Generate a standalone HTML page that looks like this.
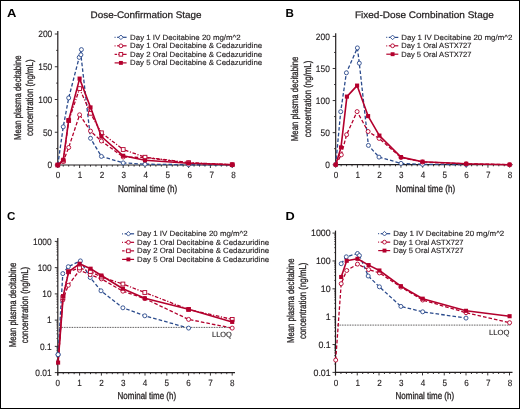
<!DOCTYPE html>
<html><head><meta charset="utf-8"><style>
html,body{margin:0;padding:0;background:#fff;}
body{width:520px;height:409px;overflow:hidden;font-family:"Liberation Sans",sans-serif;}
svg{display:block;will-change:transform;}
text{text-rendering:geometricPrecision;}
</style></head><body>
<svg width="520" height="409" viewBox="0 0 520 409" font-family="Liberation Sans, sans-serif">
<rect x="0" y="0" width="520" height="409" fill="#fff"/>
<text x="7.0" y="16.8" font-size="11.6" text-anchor="start" font-weight="bold" fill="#000" transform-origin="7 16.8" style="transform:scaleX(1.12)">A</text>
<text x="90.6" y="17.8" font-size="9.5" text-anchor="start" font-weight="normal" fill="#231f20" textLength="111" lengthAdjust="spacingAndGlyphs" stroke="#231f20" stroke-width="0.25" >Dose-Confirmation Stage</text>
<line x1="57.8" y1="31" x2="57.8" y2="165.6" stroke="#231f20" stroke-width="1.2"/>
<line x1="54.8" y1="165.00" x2="57.8" y2="165.00" stroke="#231f20" stroke-width="0.9"/>
<line x1="56.199999999999996" y1="148.62" x2="57.8" y2="148.62" stroke="#231f20" stroke-width="0.9"/>
<line x1="54.8" y1="132.25" x2="57.8" y2="132.25" stroke="#231f20" stroke-width="0.9"/>
<line x1="56.199999999999996" y1="115.88" x2="57.8" y2="115.88" stroke="#231f20" stroke-width="0.9"/>
<line x1="54.8" y1="99.50" x2="57.8" y2="99.50" stroke="#231f20" stroke-width="0.9"/>
<line x1="56.199999999999996" y1="83.12" x2="57.8" y2="83.12" stroke="#231f20" stroke-width="0.9"/>
<line x1="54.8" y1="66.75" x2="57.8" y2="66.75" stroke="#231f20" stroke-width="0.9"/>
<line x1="56.199999999999996" y1="50.38" x2="57.8" y2="50.38" stroke="#231f20" stroke-width="0.9"/>
<line x1="54.8" y1="34.00" x2="57.8" y2="34.00" stroke="#231f20" stroke-width="0.9"/>
<text x="52.2" y="168.30" font-size="9.3" text-anchor="end" font-weight="normal" fill="#231f20" stroke="#231f20" stroke-width="0.15" transform-origin="52.2 165.00" style="transform:scaleX(0.9)">0</text>
<text x="52.2" y="135.55" font-size="9.3" text-anchor="end" font-weight="normal" fill="#231f20" stroke="#231f20" stroke-width="0.15" transform-origin="52.2 132.25" style="transform:scaleX(0.9)">50</text>
<text x="52.2" y="102.80" font-size="9.3" text-anchor="end" font-weight="normal" fill="#231f20" stroke="#231f20" stroke-width="0.15" transform-origin="52.2 99.50" style="transform:scaleX(0.9)">100</text>
<text x="52.2" y="70.05" font-size="9.3" text-anchor="end" font-weight="normal" fill="#231f20" stroke="#231f20" stroke-width="0.15" transform-origin="52.2 66.75" style="transform:scaleX(0.9)">150</text>
<text x="52.2" y="37.30" font-size="9.3" text-anchor="end" font-weight="normal" fill="#231f20" stroke="#231f20" stroke-width="0.15" transform-origin="52.2 34.00" style="transform:scaleX(0.9)">200</text>
<line x1="57.199999999999996" y1="165.0" x2="235" y2="165.0" stroke="#231f20" stroke-width="1.2"/>
<line x1="57.80" y1="165.0" x2="57.80" y2="168.0" stroke="#231f20" stroke-width="0.9"/>
<line x1="63.25" y1="165.0" x2="63.25" y2="166.6" stroke="#231f20" stroke-width="0.9"/>
<line x1="68.70" y1="165.0" x2="68.70" y2="166.6" stroke="#231f20" stroke-width="0.9"/>
<line x1="74.15" y1="165.0" x2="74.15" y2="166.6" stroke="#231f20" stroke-width="0.9"/>
<line x1="79.60" y1="165.0" x2="79.60" y2="168.0" stroke="#231f20" stroke-width="0.9"/>
<line x1="85.05" y1="165.0" x2="85.05" y2="166.6" stroke="#231f20" stroke-width="0.9"/>
<line x1="90.50" y1="165.0" x2="90.50" y2="166.6" stroke="#231f20" stroke-width="0.9"/>
<line x1="95.95" y1="165.0" x2="95.95" y2="166.6" stroke="#231f20" stroke-width="0.9"/>
<line x1="101.40" y1="165.0" x2="101.40" y2="168.0" stroke="#231f20" stroke-width="0.9"/>
<line x1="106.85" y1="165.0" x2="106.85" y2="166.6" stroke="#231f20" stroke-width="0.9"/>
<line x1="112.30" y1="165.0" x2="112.30" y2="166.6" stroke="#231f20" stroke-width="0.9"/>
<line x1="117.75" y1="165.0" x2="117.75" y2="166.6" stroke="#231f20" stroke-width="0.9"/>
<line x1="123.20" y1="165.0" x2="123.20" y2="168.0" stroke="#231f20" stroke-width="0.9"/>
<line x1="128.65" y1="165.0" x2="128.65" y2="166.6" stroke="#231f20" stroke-width="0.9"/>
<line x1="134.10" y1="165.0" x2="134.10" y2="166.6" stroke="#231f20" stroke-width="0.9"/>
<line x1="139.55" y1="165.0" x2="139.55" y2="166.6" stroke="#231f20" stroke-width="0.9"/>
<line x1="145.00" y1="165.0" x2="145.00" y2="168.0" stroke="#231f20" stroke-width="0.9"/>
<line x1="150.45" y1="165.0" x2="150.45" y2="166.6" stroke="#231f20" stroke-width="0.9"/>
<line x1="155.90" y1="165.0" x2="155.90" y2="166.6" stroke="#231f20" stroke-width="0.9"/>
<line x1="161.35" y1="165.0" x2="161.35" y2="166.6" stroke="#231f20" stroke-width="0.9"/>
<line x1="166.80" y1="165.0" x2="166.80" y2="168.0" stroke="#231f20" stroke-width="0.9"/>
<line x1="172.25" y1="165.0" x2="172.25" y2="166.6" stroke="#231f20" stroke-width="0.9"/>
<line x1="177.70" y1="165.0" x2="177.70" y2="166.6" stroke="#231f20" stroke-width="0.9"/>
<line x1="183.15" y1="165.0" x2="183.15" y2="166.6" stroke="#231f20" stroke-width="0.9"/>
<line x1="188.60" y1="165.0" x2="188.60" y2="168.0" stroke="#231f20" stroke-width="0.9"/>
<line x1="194.05" y1="165.0" x2="194.05" y2="166.6" stroke="#231f20" stroke-width="0.9"/>
<line x1="199.50" y1="165.0" x2="199.50" y2="166.6" stroke="#231f20" stroke-width="0.9"/>
<line x1="204.95" y1="165.0" x2="204.95" y2="166.6" stroke="#231f20" stroke-width="0.9"/>
<line x1="210.40" y1="165.0" x2="210.40" y2="168.0" stroke="#231f20" stroke-width="0.9"/>
<line x1="215.85" y1="165.0" x2="215.85" y2="166.6" stroke="#231f20" stroke-width="0.9"/>
<line x1="221.30" y1="165.0" x2="221.30" y2="166.6" stroke="#231f20" stroke-width="0.9"/>
<line x1="226.75" y1="165.0" x2="226.75" y2="166.6" stroke="#231f20" stroke-width="0.9"/>
<line x1="232.20" y1="165.0" x2="232.20" y2="168.0" stroke="#231f20" stroke-width="0.9"/>
<text x="58.00" y="178.2" font-size="9" text-anchor="middle" font-weight="normal" fill="#231f20" stroke="#231f20" stroke-width="0.15" transform-origin="58.00 178.2" style="transform:scaleX(0.9)">0</text>
<text x="79.95" y="178.2" font-size="9" text-anchor="middle" font-weight="normal" fill="#231f20" stroke="#231f20" stroke-width="0.15" transform-origin="79.95 178.2" style="transform:scaleX(0.9)">1</text>
<text x="101.90" y="178.2" font-size="9" text-anchor="middle" font-weight="normal" fill="#231f20" stroke="#231f20" stroke-width="0.15" transform-origin="101.90 178.2" style="transform:scaleX(0.9)">2</text>
<text x="123.85" y="178.2" font-size="9" text-anchor="middle" font-weight="normal" fill="#231f20" stroke="#231f20" stroke-width="0.15" transform-origin="123.85 178.2" style="transform:scaleX(0.9)">3</text>
<text x="145.80" y="178.2" font-size="9" text-anchor="middle" font-weight="normal" fill="#231f20" stroke="#231f20" stroke-width="0.15" transform-origin="145.80 178.2" style="transform:scaleX(0.9)">4</text>
<text x="167.75" y="178.2" font-size="9" text-anchor="middle" font-weight="normal" fill="#231f20" stroke="#231f20" stroke-width="0.15" transform-origin="167.75 178.2" style="transform:scaleX(0.9)">5</text>
<text x="189.70" y="178.2" font-size="9" text-anchor="middle" font-weight="normal" fill="#231f20" stroke="#231f20" stroke-width="0.15" transform-origin="189.70 178.2" style="transform:scaleX(0.9)">6</text>
<text x="211.65" y="178.2" font-size="9" text-anchor="middle" font-weight="normal" fill="#231f20" stroke="#231f20" stroke-width="0.15" transform-origin="211.65 178.2" style="transform:scaleX(0.9)">7</text>
<text x="233.60" y="178.2" font-size="9" text-anchor="middle" font-weight="normal" fill="#231f20" stroke="#231f20" stroke-width="0.15" transform-origin="233.60 178.2" style="transform:scaleX(0.9)">8</text>
<text x="117.9" y="191.9" font-size="9.8" text-anchor="start" font-weight="normal" fill="#231f20" textLength="59.3" lengthAdjust="spacingAndGlyphs" stroke="#231f20" stroke-width="0.3" >Nominal time (h)</text>
<text transform="translate(20.6,97.7) rotate(-90)" x="0" y="0" font-size="10" text-anchor="middle" fill="#231f20" stroke="#231f20" stroke-width="0.3" textLength="84.6" lengthAdjust="spacingAndGlyphs">Mean plasma decitabine</text>
<text transform="translate(32.6,97.7) rotate(-90)" x="0" y="0" font-size="10" text-anchor="middle" fill="#231f20" stroke="#231f20" stroke-width="0.3" textLength="76.5" lengthAdjust="spacingAndGlyphs">concentration (ng/mL)</text>
<polyline points="57.80,165.00 63.25,126.80 68.70,97.90 79.20,57.40 81.40,49.60 80.90,54.80 90.50,138.30 101.40,156.40 123.20,162.90 145.00,164.20 188.60,164.70 232.20,164.90" fill="none" stroke="#2a4a8c" stroke-width="1.3" stroke-dasharray="3.6,2.1" stroke-linejoin="round"/>
<circle cx="57.80" cy="165.00" r="2.00" fill="#fff" stroke="#2a4a8c" stroke-width="0.9"/>
<circle cx="63.25" cy="126.80" r="2.00" fill="#fff" stroke="#2a4a8c" stroke-width="0.9"/>
<circle cx="68.70" cy="97.90" r="2.00" fill="#fff" stroke="#2a4a8c" stroke-width="0.9"/>
<circle cx="79.20" cy="57.40" r="2.00" fill="#fff" stroke="#2a4a8c" stroke-width="0.9"/>
<circle cx="81.40" cy="49.60" r="2.00" fill="#fff" stroke="#2a4a8c" stroke-width="0.9"/>
<circle cx="80.90" cy="54.80" r="2.00" fill="#fff" stroke="#2a4a8c" stroke-width="0.9"/>
<circle cx="90.50" cy="138.30" r="2.00" fill="#fff" stroke="#2a4a8c" stroke-width="0.9"/>
<circle cx="101.40" cy="156.40" r="2.00" fill="#fff" stroke="#2a4a8c" stroke-width="0.9"/>
<circle cx="123.20" cy="162.90" r="2.00" fill="#fff" stroke="#2a4a8c" stroke-width="0.9"/>
<circle cx="145.00" cy="164.20" r="2.00" fill="#fff" stroke="#2a4a8c" stroke-width="0.9"/>
<circle cx="188.60" cy="164.70" r="2.00" fill="#fff" stroke="#2a4a8c" stroke-width="0.9"/>
<circle cx="232.20" cy="164.90" r="2.00" fill="#fff" stroke="#2a4a8c" stroke-width="0.9"/>
<polyline points="57.80,165.00 63.25,161.50 68.70,147.50 79.60,114.80 90.50,131.10 101.40,141.00 123.20,157.00 145.00,157.50 188.60,163.00 232.20,164.70" fill="none" stroke="#b3002d" stroke-width="1.3" stroke-dasharray="3.6,2" stroke-linejoin="round"/>
<circle cx="57.80" cy="165.00" r="2.00" fill="#fff" stroke="#b3002d" stroke-width="0.9"/>
<circle cx="63.25" cy="161.50" r="2.00" fill="#fff" stroke="#b3002d" stroke-width="0.9"/>
<circle cx="68.70" cy="147.50" r="2.00" fill="#fff" stroke="#b3002d" stroke-width="0.9"/>
<circle cx="79.60" cy="114.80" r="2.00" fill="#fff" stroke="#b3002d" stroke-width="0.9"/>
<circle cx="90.50" cy="131.10" r="2.00" fill="#fff" stroke="#b3002d" stroke-width="0.9"/>
<circle cx="101.40" cy="141.00" r="2.00" fill="#fff" stroke="#b3002d" stroke-width="0.9"/>
<circle cx="123.20" cy="157.00" r="2.00" fill="#fff" stroke="#b3002d" stroke-width="0.9"/>
<circle cx="145.00" cy="157.50" r="2.00" fill="#fff" stroke="#b3002d" stroke-width="0.9"/>
<circle cx="188.60" cy="163.00" r="2.00" fill="#fff" stroke="#b3002d" stroke-width="0.9"/>
<circle cx="232.20" cy="164.70" r="2.00" fill="#fff" stroke="#b3002d" stroke-width="0.9"/>
<polyline points="57.80,165.00 63.25,161.00 68.70,120.60 79.60,88.60 90.50,113.30 101.40,132.80 123.20,149.50 145.00,157.20 188.60,162.60 232.20,164.70" fill="none" stroke="#b3002d" stroke-width="1.3" stroke-dasharray="3.6,1.6,1.2,1.6" stroke-linejoin="round"/>
<rect x="55.90" y="163.10" width="3.80" height="3.80" fill="#fff" stroke="#b3002d" stroke-width="0.9"/>
<rect x="61.35" y="159.10" width="3.80" height="3.80" fill="#fff" stroke="#b3002d" stroke-width="0.9"/>
<rect x="66.80" y="118.70" width="3.80" height="3.80" fill="#fff" stroke="#b3002d" stroke-width="0.9"/>
<rect x="77.70" y="86.70" width="3.80" height="3.80" fill="#fff" stroke="#b3002d" stroke-width="0.9"/>
<rect x="88.60" y="111.40" width="3.80" height="3.80" fill="#fff" stroke="#b3002d" stroke-width="0.9"/>
<rect x="99.50" y="130.90" width="3.80" height="3.80" fill="#fff" stroke="#b3002d" stroke-width="0.9"/>
<rect x="121.30" y="147.60" width="3.80" height="3.80" fill="#fff" stroke="#b3002d" stroke-width="0.9"/>
<rect x="143.10" y="155.30" width="3.80" height="3.80" fill="#fff" stroke="#b3002d" stroke-width="0.9"/>
<rect x="186.70" y="160.70" width="3.80" height="3.80" fill="#fff" stroke="#b3002d" stroke-width="0.9"/>
<rect x="230.30" y="162.80" width="3.80" height="3.80" fill="#fff" stroke="#b3002d" stroke-width="0.9"/>
<polyline points="57.80,165.00 63.25,159.80 68.70,120.20 79.60,78.60 90.50,107.40 101.40,136.50 123.20,155.80 145.00,160.30 188.60,163.20 232.20,164.80" fill="none" stroke="#b3002d" stroke-width="1.6"  stroke-linejoin="round"/>
<rect x="55.75" y="162.95" width="4.10" height="4.10" fill="#b3002d"/>
<rect x="61.20" y="157.75" width="4.10" height="4.10" fill="#b3002d"/>
<rect x="66.65" y="118.15" width="4.10" height="4.10" fill="#b3002d"/>
<rect x="77.55" y="76.55" width="4.10" height="4.10" fill="#b3002d"/>
<rect x="88.45" y="105.35" width="4.10" height="4.10" fill="#b3002d"/>
<rect x="99.35" y="134.45" width="4.10" height="4.10" fill="#b3002d"/>
<rect x="121.15" y="153.75" width="4.10" height="4.10" fill="#b3002d"/>
<rect x="142.95" y="158.25" width="4.10" height="4.10" fill="#b3002d"/>
<rect x="186.55" y="161.15" width="4.10" height="4.10" fill="#b3002d"/>
<rect x="230.15" y="162.75" width="4.10" height="4.10" fill="#b3002d"/>
<line x1="114.60" y1="37.300000000000004" x2="115.50" y2="37.300000000000004" stroke="#2a4a8c" stroke-width="1.2"/>
<line x1="117.10" y1="37.300000000000004" x2="126.60" y2="37.300000000000004" stroke="#2a4a8c" stroke-width="1.2"/>
<path d="M120.90 35.00L123.20 37.30L120.90 39.60L118.60 37.30Z" fill="#fff" stroke="#2a4a8c" stroke-width="0.9"/>
<text x="130.1" y="39.7" font-size="7.6" text-anchor="start" font-weight="normal" fill="#231f20" textLength="110.6" lengthAdjust="spacingAndGlyphs" stroke="#231f20" stroke-width="0.14" >Day 1 IV Decitabine 20 mg/m^2</text>
<line x1="114.60" y1="45.830000000000005" x2="115.50" y2="45.830000000000005" stroke="#b3002d" stroke-width="1.2"/>
<line x1="117.10" y1="45.830000000000005" x2="126.60" y2="45.830000000000005" stroke="#b3002d" stroke-width="1.2"/>
<circle cx="120.90" cy="45.83" r="1.90" fill="#fff" stroke="#b3002d" stroke-width="0.9"/>
<text x="130.1" y="48.230000000000004" font-size="7.6" text-anchor="start" font-weight="normal" fill="#231f20" textLength="132" lengthAdjust="spacingAndGlyphs" stroke="#231f20" stroke-width="0.14" >Day 1 Oral Decitabine &amp; Cedazuridine</text>
<line x1="114.60" y1="54.36000000000001" x2="117.10" y2="54.36000000000001" stroke="#b3002d" stroke-width="1.2"/>
<line x1="118.20" y1="54.36000000000001" x2="126.60" y2="54.36000000000001" stroke="#b3002d" stroke-width="1.2"/>
<rect x="119.10" y="52.56" width="3.60" height="3.60" fill="#fff" stroke="#b3002d" stroke-width="0.9"/>
<text x="130.1" y="56.760000000000005" font-size="7.6" text-anchor="start" font-weight="normal" fill="#231f20" textLength="132" lengthAdjust="spacingAndGlyphs" stroke="#231f20" stroke-width="0.14" >Day 2 Oral Decitabine &amp; Cedazuridine</text>
<line x1="114.60" y1="62.88999999999999" x2="126.60" y2="62.88999999999999" stroke="#b3002d" stroke-width="1.2"/>
<rect x="118.95" y="60.94" width="3.90" height="3.90" fill="#b3002d"/>
<text x="130.1" y="65.28999999999999" font-size="7.6" text-anchor="start" font-weight="normal" fill="#231f20" textLength="132" lengthAdjust="spacingAndGlyphs" stroke="#231f20" stroke-width="0.14" >Day 5 Oral Decitabine &amp; Cedazuridine</text>
<text x="285.6" y="16.9" font-size="11.6" text-anchor="start" font-weight="bold" fill="#000" >B</text>
<text x="355" y="17.7" font-size="9.5" text-anchor="start" font-weight="normal" fill="#231f20" textLength="138.8" lengthAdjust="spacingAndGlyphs" stroke="#231f20" stroke-width="0.25" >Fixed-Dose Combination Stage</text>
<line x1="335.7" y1="33.2" x2="335.7" y2="165.29999999999998" stroke="#231f20" stroke-width="1.2"/>
<line x1="332.7" y1="164.70" x2="335.7" y2="164.70" stroke="#231f20" stroke-width="0.9"/>
<line x1="334.09999999999997" y1="148.66" x2="335.7" y2="148.66" stroke="#231f20" stroke-width="0.9"/>
<line x1="332.7" y1="132.63" x2="335.7" y2="132.63" stroke="#231f20" stroke-width="0.9"/>
<line x1="334.09999999999997" y1="116.59" x2="335.7" y2="116.59" stroke="#231f20" stroke-width="0.9"/>
<line x1="332.7" y1="100.56" x2="335.7" y2="100.56" stroke="#231f20" stroke-width="0.9"/>
<line x1="334.09999999999997" y1="84.52" x2="335.7" y2="84.52" stroke="#231f20" stroke-width="0.9"/>
<line x1="332.7" y1="68.49" x2="335.7" y2="68.49" stroke="#231f20" stroke-width="0.9"/>
<line x1="334.09999999999997" y1="52.45" x2="335.7" y2="52.45" stroke="#231f20" stroke-width="0.9"/>
<line x1="332.7" y1="36.42" x2="335.7" y2="36.42" stroke="#231f20" stroke-width="0.9"/>
<text x="329.8" y="168.00" font-size="9.3" text-anchor="end" font-weight="normal" fill="#231f20" stroke="#231f20" stroke-width="0.15" transform-origin="329.8 164.70" style="transform:scaleX(0.9)">0</text>
<text x="329.8" y="135.93" font-size="9.3" text-anchor="end" font-weight="normal" fill="#231f20" stroke="#231f20" stroke-width="0.15" transform-origin="329.8 132.63" style="transform:scaleX(0.9)">50</text>
<text x="329.8" y="103.86" font-size="9.3" text-anchor="end" font-weight="normal" fill="#231f20" stroke="#231f20" stroke-width="0.15" transform-origin="329.8 100.56" style="transform:scaleX(0.9)">100</text>
<text x="329.8" y="71.79" font-size="9.3" text-anchor="end" font-weight="normal" fill="#231f20" stroke="#231f20" stroke-width="0.15" transform-origin="329.8 68.49" style="transform:scaleX(0.9)">150</text>
<text x="329.8" y="39.72" font-size="9.3" text-anchor="end" font-weight="normal" fill="#231f20" stroke="#231f20" stroke-width="0.15" transform-origin="329.8 36.42" style="transform:scaleX(0.9)">200</text>
<line x1="335.09999999999997" y1="164.7" x2="512.5" y2="164.7" stroke="#231f20" stroke-width="1.2"/>
<line x1="335.70" y1="164.7" x2="335.70" y2="167.7" stroke="#231f20" stroke-width="0.9"/>
<line x1="341.14" y1="164.7" x2="341.14" y2="166.29999999999998" stroke="#231f20" stroke-width="0.9"/>
<line x1="346.57" y1="164.7" x2="346.57" y2="166.29999999999998" stroke="#231f20" stroke-width="0.9"/>
<line x1="352.01" y1="164.7" x2="352.01" y2="166.29999999999998" stroke="#231f20" stroke-width="0.9"/>
<line x1="357.45" y1="164.7" x2="357.45" y2="167.7" stroke="#231f20" stroke-width="0.9"/>
<line x1="362.89" y1="164.7" x2="362.89" y2="166.29999999999998" stroke="#231f20" stroke-width="0.9"/>
<line x1="368.32" y1="164.7" x2="368.32" y2="166.29999999999998" stroke="#231f20" stroke-width="0.9"/>
<line x1="373.76" y1="164.7" x2="373.76" y2="166.29999999999998" stroke="#231f20" stroke-width="0.9"/>
<line x1="379.20" y1="164.7" x2="379.20" y2="167.7" stroke="#231f20" stroke-width="0.9"/>
<line x1="384.64" y1="164.7" x2="384.64" y2="166.29999999999998" stroke="#231f20" stroke-width="0.9"/>
<line x1="390.07" y1="164.7" x2="390.07" y2="166.29999999999998" stroke="#231f20" stroke-width="0.9"/>
<line x1="395.51" y1="164.7" x2="395.51" y2="166.29999999999998" stroke="#231f20" stroke-width="0.9"/>
<line x1="400.95" y1="164.7" x2="400.95" y2="167.7" stroke="#231f20" stroke-width="0.9"/>
<line x1="406.39" y1="164.7" x2="406.39" y2="166.29999999999998" stroke="#231f20" stroke-width="0.9"/>
<line x1="411.82" y1="164.7" x2="411.82" y2="166.29999999999998" stroke="#231f20" stroke-width="0.9"/>
<line x1="417.26" y1="164.7" x2="417.26" y2="166.29999999999998" stroke="#231f20" stroke-width="0.9"/>
<line x1="422.70" y1="164.7" x2="422.70" y2="167.7" stroke="#231f20" stroke-width="0.9"/>
<line x1="428.14" y1="164.7" x2="428.14" y2="166.29999999999998" stroke="#231f20" stroke-width="0.9"/>
<line x1="433.57" y1="164.7" x2="433.57" y2="166.29999999999998" stroke="#231f20" stroke-width="0.9"/>
<line x1="439.01" y1="164.7" x2="439.01" y2="166.29999999999998" stroke="#231f20" stroke-width="0.9"/>
<line x1="444.45" y1="164.7" x2="444.45" y2="167.7" stroke="#231f20" stroke-width="0.9"/>
<line x1="449.89" y1="164.7" x2="449.89" y2="166.29999999999998" stroke="#231f20" stroke-width="0.9"/>
<line x1="455.32" y1="164.7" x2="455.32" y2="166.29999999999998" stroke="#231f20" stroke-width="0.9"/>
<line x1="460.76" y1="164.7" x2="460.76" y2="166.29999999999998" stroke="#231f20" stroke-width="0.9"/>
<line x1="466.20" y1="164.7" x2="466.20" y2="167.7" stroke="#231f20" stroke-width="0.9"/>
<line x1="471.64" y1="164.7" x2="471.64" y2="166.29999999999998" stroke="#231f20" stroke-width="0.9"/>
<line x1="477.07" y1="164.7" x2="477.07" y2="166.29999999999998" stroke="#231f20" stroke-width="0.9"/>
<line x1="482.51" y1="164.7" x2="482.51" y2="166.29999999999998" stroke="#231f20" stroke-width="0.9"/>
<line x1="487.95" y1="164.7" x2="487.95" y2="167.7" stroke="#231f20" stroke-width="0.9"/>
<line x1="493.39" y1="164.7" x2="493.39" y2="166.29999999999998" stroke="#231f20" stroke-width="0.9"/>
<line x1="498.82" y1="164.7" x2="498.82" y2="166.29999999999998" stroke="#231f20" stroke-width="0.9"/>
<line x1="504.26" y1="164.7" x2="504.26" y2="166.29999999999998" stroke="#231f20" stroke-width="0.9"/>
<line x1="509.70" y1="164.7" x2="509.70" y2="167.7" stroke="#231f20" stroke-width="0.9"/>
<text x="336.00" y="178.0" font-size="9" text-anchor="middle" font-weight="normal" fill="#231f20" stroke="#231f20" stroke-width="0.15" transform-origin="336.00 178.0" style="transform:scaleX(0.9)">0</text>
<text x="357.75" y="178.0" font-size="9" text-anchor="middle" font-weight="normal" fill="#231f20" stroke="#231f20" stroke-width="0.15" transform-origin="357.75 178.0" style="transform:scaleX(0.9)">1</text>
<text x="379.50" y="178.0" font-size="9" text-anchor="middle" font-weight="normal" fill="#231f20" stroke="#231f20" stroke-width="0.15" transform-origin="379.50 178.0" style="transform:scaleX(0.9)">2</text>
<text x="401.25" y="178.0" font-size="9" text-anchor="middle" font-weight="normal" fill="#231f20" stroke="#231f20" stroke-width="0.15" transform-origin="401.25 178.0" style="transform:scaleX(0.9)">3</text>
<text x="423.00" y="178.0" font-size="9" text-anchor="middle" font-weight="normal" fill="#231f20" stroke="#231f20" stroke-width="0.15" transform-origin="423.00 178.0" style="transform:scaleX(0.9)">4</text>
<text x="444.75" y="178.0" font-size="9" text-anchor="middle" font-weight="normal" fill="#231f20" stroke="#231f20" stroke-width="0.15" transform-origin="444.75 178.0" style="transform:scaleX(0.9)">5</text>
<text x="466.50" y="178.0" font-size="9" text-anchor="middle" font-weight="normal" fill="#231f20" stroke="#231f20" stroke-width="0.15" transform-origin="466.50 178.0" style="transform:scaleX(0.9)">6</text>
<text x="488.25" y="178.0" font-size="9" text-anchor="middle" font-weight="normal" fill="#231f20" stroke="#231f20" stroke-width="0.15" transform-origin="488.25 178.0" style="transform:scaleX(0.9)">7</text>
<text x="510.00" y="178.0" font-size="9" text-anchor="middle" font-weight="normal" fill="#231f20" stroke="#231f20" stroke-width="0.15" transform-origin="510.00 178.0" style="transform:scaleX(0.9)">8</text>
<text x="395.8" y="191.9" font-size="9.8" text-anchor="start" font-weight="normal" fill="#231f20" textLength="59.3" lengthAdjust="spacingAndGlyphs" stroke="#231f20" stroke-width="0.3" >Nominal time (h)</text>
<text transform="translate(298.2,98.9) rotate(-90)" x="0" y="0" font-size="10" text-anchor="middle" fill="#231f20" stroke="#231f20" stroke-width="0.3" textLength="84.6" lengthAdjust="spacingAndGlyphs">Mean plasma decitabine</text>
<text transform="translate(310.5,98.9) rotate(-90)" x="0" y="0" font-size="10" text-anchor="middle" fill="#231f20" stroke="#231f20" stroke-width="0.3" textLength="76.5" lengthAdjust="spacingAndGlyphs">concentration (ng/mL)</text>
<polyline points="335.70,164.70 340.70,111.70 346.40,72.80 357.40,47.90 359.30,63.20 368.40,145.40 379.00,157.10 401.00,163.40 422.50,164.30 466.20,164.60" fill="none" stroke="#2a4a8c" stroke-width="1.3" stroke-dasharray="3.6,2.1" stroke-linejoin="round"/>
<circle cx="335.70" cy="164.70" r="2.00" fill="#fff" stroke="#2a4a8c" stroke-width="0.9"/>
<circle cx="340.70" cy="111.70" r="2.00" fill="#fff" stroke="#2a4a8c" stroke-width="0.9"/>
<circle cx="346.40" cy="72.80" r="2.00" fill="#fff" stroke="#2a4a8c" stroke-width="0.9"/>
<circle cx="357.40" cy="47.90" r="2.00" fill="#fff" stroke="#2a4a8c" stroke-width="0.9"/>
<circle cx="359.30" cy="63.20" r="2.00" fill="#fff" stroke="#2a4a8c" stroke-width="0.9"/>
<circle cx="368.40" cy="145.40" r="2.00" fill="#fff" stroke="#2a4a8c" stroke-width="0.9"/>
<circle cx="379.00" cy="157.10" r="2.00" fill="#fff" stroke="#2a4a8c" stroke-width="0.9"/>
<circle cx="401.00" cy="163.40" r="2.00" fill="#fff" stroke="#2a4a8c" stroke-width="0.9"/>
<circle cx="422.50" cy="164.30" r="2.00" fill="#fff" stroke="#2a4a8c" stroke-width="0.9"/>
<circle cx="466.20" cy="164.60" r="2.00" fill="#fff" stroke="#2a4a8c" stroke-width="0.9"/>
<polyline points="335.70,164.70 341.30,154.80 346.60,134.70 357.10,111.60 368.10,131.50 379.10,138.40 401.00,157.50 422.50,162.00 466.20,163.80 509.60,164.60" fill="none" stroke="#b3002d" stroke-width="1.3" stroke-dasharray="3.6,2" stroke-linejoin="round"/>
<circle cx="335.70" cy="164.70" r="2.00" fill="#fff" stroke="#b3002d" stroke-width="0.9"/>
<circle cx="341.30" cy="154.80" r="2.00" fill="#fff" stroke="#b3002d" stroke-width="0.9"/>
<circle cx="346.60" cy="134.70" r="2.00" fill="#fff" stroke="#b3002d" stroke-width="0.9"/>
<circle cx="357.10" cy="111.60" r="2.00" fill="#fff" stroke="#b3002d" stroke-width="0.9"/>
<circle cx="368.10" cy="131.50" r="2.00" fill="#fff" stroke="#b3002d" stroke-width="0.9"/>
<circle cx="379.10" cy="138.40" r="2.00" fill="#fff" stroke="#b3002d" stroke-width="0.9"/>
<circle cx="401.00" cy="157.50" r="2.00" fill="#fff" stroke="#b3002d" stroke-width="0.9"/>
<circle cx="422.50" cy="162.00" r="2.00" fill="#fff" stroke="#b3002d" stroke-width="0.9"/>
<circle cx="466.20" cy="163.80" r="2.00" fill="#fff" stroke="#b3002d" stroke-width="0.9"/>
<circle cx="509.60" cy="164.60" r="2.00" fill="#fff" stroke="#b3002d" stroke-width="0.9"/>
<polyline points="335.70,164.70 341.00,147.40 346.90,96.60 357.10,85.60 368.10,116.10 379.40,135.60 401.00,157.10 422.50,161.70 466.20,163.80 509.60,164.70" fill="none" stroke="#b3002d" stroke-width="1.6"  stroke-linejoin="round"/>
<rect x="333.65" y="162.65" width="4.10" height="4.10" fill="#b3002d"/>
<rect x="338.95" y="145.35" width="4.10" height="4.10" fill="#b3002d"/>
<rect x="344.85" y="94.55" width="4.10" height="4.10" fill="#b3002d"/>
<rect x="355.05" y="83.55" width="4.10" height="4.10" fill="#b3002d"/>
<rect x="366.05" y="114.05" width="4.10" height="4.10" fill="#b3002d"/>
<rect x="377.35" y="133.55" width="4.10" height="4.10" fill="#b3002d"/>
<rect x="398.95" y="155.05" width="4.10" height="4.10" fill="#b3002d"/>
<rect x="420.45" y="159.65" width="4.10" height="4.10" fill="#b3002d"/>
<rect x="464.15" y="161.75" width="4.10" height="4.10" fill="#b3002d"/>
<rect x="507.55" y="162.65" width="4.10" height="4.10" fill="#b3002d"/>
<line x1="386.30" y1="37.4" x2="387.20" y2="37.4" stroke="#2a4a8c" stroke-width="1.2"/>
<line x1="388.80" y1="37.4" x2="398.30" y2="37.4" stroke="#2a4a8c" stroke-width="1.2"/>
<path d="M392.60 35.10L394.90 37.40L392.60 39.70L390.30 37.40Z" fill="#fff" stroke="#2a4a8c" stroke-width="0.9"/>
<text x="401.3" y="39.8" font-size="7.6" text-anchor="start" font-weight="normal" fill="#231f20" textLength="111.1" lengthAdjust="spacingAndGlyphs" stroke="#231f20" stroke-width="0.14" >Day 1 IV Decitabine 20 mg/m^2</text>
<line x1="386.30" y1="45.8" x2="387.20" y2="45.8" stroke="#b3002d" stroke-width="1.2"/>
<line x1="388.80" y1="45.8" x2="398.30" y2="45.8" stroke="#b3002d" stroke-width="1.2"/>
<circle cx="392.60" cy="45.80" r="1.90" fill="#fff" stroke="#b3002d" stroke-width="0.9"/>
<text x="401.3" y="48.199999999999996" font-size="7.6" text-anchor="start" font-weight="normal" fill="#231f20" textLength="70.2" lengthAdjust="spacingAndGlyphs" stroke="#231f20" stroke-width="0.14" >Day 1 Oral ASTX727</text>
<line x1="386.30" y1="54.199999999999996" x2="398.30" y2="54.199999999999996" stroke="#b3002d" stroke-width="1.2"/>
<rect x="390.65" y="52.25" width="3.90" height="3.90" fill="#b3002d"/>
<text x="401.3" y="56.599999999999994" font-size="7.6" text-anchor="start" font-weight="normal" fill="#231f20" textLength="70.2" lengthAdjust="spacingAndGlyphs" stroke="#231f20" stroke-width="0.14" >Day 5 Oral ASTX727</text>
<text x="7.0" y="219.8" font-size="11.6" text-anchor="start" font-weight="bold" fill="#000" >C</text>
<line x1="57.8" y1="238" x2="57.8" y2="375.6" stroke="#231f20" stroke-width="1.2"/>
<line x1="54.8" y1="372.60" x2="57.8" y2="372.60" stroke="#231f20" stroke-width="0.9"/>
<line x1="56.3" y1="364.70" x2="57.8" y2="364.70" stroke="#231f20" stroke-width="0.6"/>
<line x1="56.3" y1="360.08" x2="57.8" y2="360.08" stroke="#231f20" stroke-width="0.6"/>
<line x1="56.3" y1="356.80" x2="57.8" y2="356.80" stroke="#231f20" stroke-width="0.6"/>
<line x1="56.3" y1="354.26" x2="57.8" y2="354.26" stroke="#231f20" stroke-width="0.6"/>
<line x1="56.3" y1="352.18" x2="57.8" y2="352.18" stroke="#231f20" stroke-width="0.6"/>
<line x1="56.3" y1="350.42" x2="57.8" y2="350.42" stroke="#231f20" stroke-width="0.6"/>
<line x1="56.3" y1="348.90" x2="57.8" y2="348.90" stroke="#231f20" stroke-width="0.6"/>
<line x1="56.3" y1="347.56" x2="57.8" y2="347.56" stroke="#231f20" stroke-width="0.6"/>
<line x1="54.8" y1="346.36" x2="57.8" y2="346.36" stroke="#231f20" stroke-width="0.9"/>
<line x1="56.3" y1="338.46" x2="57.8" y2="338.46" stroke="#231f20" stroke-width="0.6"/>
<line x1="56.3" y1="333.84" x2="57.8" y2="333.84" stroke="#231f20" stroke-width="0.6"/>
<line x1="56.3" y1="330.56" x2="57.8" y2="330.56" stroke="#231f20" stroke-width="0.6"/>
<line x1="56.3" y1="328.02" x2="57.8" y2="328.02" stroke="#231f20" stroke-width="0.6"/>
<line x1="56.3" y1="325.94" x2="57.8" y2="325.94" stroke="#231f20" stroke-width="0.6"/>
<line x1="56.3" y1="324.18" x2="57.8" y2="324.18" stroke="#231f20" stroke-width="0.6"/>
<line x1="56.3" y1="322.66" x2="57.8" y2="322.66" stroke="#231f20" stroke-width="0.6"/>
<line x1="56.3" y1="321.32" x2="57.8" y2="321.32" stroke="#231f20" stroke-width="0.6"/>
<line x1="54.8" y1="320.12" x2="57.8" y2="320.12" stroke="#231f20" stroke-width="0.9"/>
<line x1="56.3" y1="312.22" x2="57.8" y2="312.22" stroke="#231f20" stroke-width="0.6"/>
<line x1="56.3" y1="307.60" x2="57.8" y2="307.60" stroke="#231f20" stroke-width="0.6"/>
<line x1="56.3" y1="304.32" x2="57.8" y2="304.32" stroke="#231f20" stroke-width="0.6"/>
<line x1="56.3" y1="301.78" x2="57.8" y2="301.78" stroke="#231f20" stroke-width="0.6"/>
<line x1="56.3" y1="299.70" x2="57.8" y2="299.70" stroke="#231f20" stroke-width="0.6"/>
<line x1="56.3" y1="297.94" x2="57.8" y2="297.94" stroke="#231f20" stroke-width="0.6"/>
<line x1="56.3" y1="296.42" x2="57.8" y2="296.42" stroke="#231f20" stroke-width="0.6"/>
<line x1="56.3" y1="295.08" x2="57.8" y2="295.08" stroke="#231f20" stroke-width="0.6"/>
<line x1="54.8" y1="293.88" x2="57.8" y2="293.88" stroke="#231f20" stroke-width="0.9"/>
<line x1="56.3" y1="285.98" x2="57.8" y2="285.98" stroke="#231f20" stroke-width="0.6"/>
<line x1="56.3" y1="281.36" x2="57.8" y2="281.36" stroke="#231f20" stroke-width="0.6"/>
<line x1="56.3" y1="278.08" x2="57.8" y2="278.08" stroke="#231f20" stroke-width="0.6"/>
<line x1="56.3" y1="275.54" x2="57.8" y2="275.54" stroke="#231f20" stroke-width="0.6"/>
<line x1="56.3" y1="273.46" x2="57.8" y2="273.46" stroke="#231f20" stroke-width="0.6"/>
<line x1="56.3" y1="271.70" x2="57.8" y2="271.70" stroke="#231f20" stroke-width="0.6"/>
<line x1="56.3" y1="270.18" x2="57.8" y2="270.18" stroke="#231f20" stroke-width="0.6"/>
<line x1="56.3" y1="268.84" x2="57.8" y2="268.84" stroke="#231f20" stroke-width="0.6"/>
<line x1="54.8" y1="267.64" x2="57.8" y2="267.64" stroke="#231f20" stroke-width="0.9"/>
<line x1="56.3" y1="259.74" x2="57.8" y2="259.74" stroke="#231f20" stroke-width="0.6"/>
<line x1="56.3" y1="255.12" x2="57.8" y2="255.12" stroke="#231f20" stroke-width="0.6"/>
<line x1="56.3" y1="251.84" x2="57.8" y2="251.84" stroke="#231f20" stroke-width="0.6"/>
<line x1="56.3" y1="249.30" x2="57.8" y2="249.30" stroke="#231f20" stroke-width="0.6"/>
<line x1="56.3" y1="247.22" x2="57.8" y2="247.22" stroke="#231f20" stroke-width="0.6"/>
<line x1="56.3" y1="245.46" x2="57.8" y2="245.46" stroke="#231f20" stroke-width="0.6"/>
<line x1="56.3" y1="243.94" x2="57.8" y2="243.94" stroke="#231f20" stroke-width="0.6"/>
<line x1="56.3" y1="242.60" x2="57.8" y2="242.60" stroke="#231f20" stroke-width="0.6"/>
<line x1="54.8" y1="241.40" x2="57.8" y2="241.40" stroke="#231f20" stroke-width="0.9"/>
<text x="51.6" y="375.90" font-size="9.3" text-anchor="end" font-weight="normal" fill="#231f20" stroke="#231f20" stroke-width="0.15" transform-origin="51.6 372.60" style="transform:scaleX(0.9)">0.01</text>
<text x="51.6" y="349.66" font-size="9.3" text-anchor="end" font-weight="normal" fill="#231f20" stroke="#231f20" stroke-width="0.15" transform-origin="51.6 346.36" style="transform:scaleX(0.9)">0.1</text>
<text x="51.6" y="323.42" font-size="9.3" text-anchor="end" font-weight="normal" fill="#231f20" stroke="#231f20" stroke-width="0.15" transform-origin="51.6 320.12" style="transform:scaleX(0.9)">1</text>
<text x="51.6" y="297.18" font-size="9.3" text-anchor="end" font-weight="normal" fill="#231f20" stroke="#231f20" stroke-width="0.15" transform-origin="51.6 293.88" style="transform:scaleX(0.9)">10</text>
<text x="51.6" y="270.94" font-size="9.3" text-anchor="end" font-weight="normal" fill="#231f20" stroke="#231f20" stroke-width="0.15" transform-origin="51.6 267.64" style="transform:scaleX(0.9)">100</text>
<text x="51.6" y="244.70" font-size="9.3" text-anchor="end" font-weight="normal" fill="#231f20" stroke="#231f20" stroke-width="0.15" transform-origin="51.6 241.40" style="transform:scaleX(0.9)">1000</text>
<line x1="57.199999999999996" y1="372.6" x2="235" y2="372.6" stroke="#231f20" stroke-width="1.2"/>
<line x1="57.80" y1="372.6" x2="57.80" y2="375.6" stroke="#231f20" stroke-width="0.9"/>
<line x1="63.25" y1="372.6" x2="63.25" y2="374.20000000000005" stroke="#231f20" stroke-width="0.9"/>
<line x1="68.70" y1="372.6" x2="68.70" y2="374.20000000000005" stroke="#231f20" stroke-width="0.9"/>
<line x1="74.15" y1="372.6" x2="74.15" y2="374.20000000000005" stroke="#231f20" stroke-width="0.9"/>
<line x1="79.60" y1="372.6" x2="79.60" y2="375.6" stroke="#231f20" stroke-width="0.9"/>
<line x1="85.05" y1="372.6" x2="85.05" y2="374.20000000000005" stroke="#231f20" stroke-width="0.9"/>
<line x1="90.50" y1="372.6" x2="90.50" y2="374.20000000000005" stroke="#231f20" stroke-width="0.9"/>
<line x1="95.95" y1="372.6" x2="95.95" y2="374.20000000000005" stroke="#231f20" stroke-width="0.9"/>
<line x1="101.40" y1="372.6" x2="101.40" y2="375.6" stroke="#231f20" stroke-width="0.9"/>
<line x1="106.85" y1="372.6" x2="106.85" y2="374.20000000000005" stroke="#231f20" stroke-width="0.9"/>
<line x1="112.30" y1="372.6" x2="112.30" y2="374.20000000000005" stroke="#231f20" stroke-width="0.9"/>
<line x1="117.75" y1="372.6" x2="117.75" y2="374.20000000000005" stroke="#231f20" stroke-width="0.9"/>
<line x1="123.20" y1="372.6" x2="123.20" y2="375.6" stroke="#231f20" stroke-width="0.9"/>
<line x1="128.65" y1="372.6" x2="128.65" y2="374.20000000000005" stroke="#231f20" stroke-width="0.9"/>
<line x1="134.10" y1="372.6" x2="134.10" y2="374.20000000000005" stroke="#231f20" stroke-width="0.9"/>
<line x1="139.55" y1="372.6" x2="139.55" y2="374.20000000000005" stroke="#231f20" stroke-width="0.9"/>
<line x1="145.00" y1="372.6" x2="145.00" y2="375.6" stroke="#231f20" stroke-width="0.9"/>
<line x1="150.45" y1="372.6" x2="150.45" y2="374.20000000000005" stroke="#231f20" stroke-width="0.9"/>
<line x1="155.90" y1="372.6" x2="155.90" y2="374.20000000000005" stroke="#231f20" stroke-width="0.9"/>
<line x1="161.35" y1="372.6" x2="161.35" y2="374.20000000000005" stroke="#231f20" stroke-width="0.9"/>
<line x1="166.80" y1="372.6" x2="166.80" y2="375.6" stroke="#231f20" stroke-width="0.9"/>
<line x1="172.25" y1="372.6" x2="172.25" y2="374.20000000000005" stroke="#231f20" stroke-width="0.9"/>
<line x1="177.70" y1="372.6" x2="177.70" y2="374.20000000000005" stroke="#231f20" stroke-width="0.9"/>
<line x1="183.15" y1="372.6" x2="183.15" y2="374.20000000000005" stroke="#231f20" stroke-width="0.9"/>
<line x1="188.60" y1="372.6" x2="188.60" y2="375.6" stroke="#231f20" stroke-width="0.9"/>
<line x1="194.05" y1="372.6" x2="194.05" y2="374.20000000000005" stroke="#231f20" stroke-width="0.9"/>
<line x1="199.50" y1="372.6" x2="199.50" y2="374.20000000000005" stroke="#231f20" stroke-width="0.9"/>
<line x1="204.95" y1="372.6" x2="204.95" y2="374.20000000000005" stroke="#231f20" stroke-width="0.9"/>
<line x1="210.40" y1="372.6" x2="210.40" y2="375.6" stroke="#231f20" stroke-width="0.9"/>
<line x1="215.85" y1="372.6" x2="215.85" y2="374.20000000000005" stroke="#231f20" stroke-width="0.9"/>
<line x1="221.30" y1="372.6" x2="221.30" y2="374.20000000000005" stroke="#231f20" stroke-width="0.9"/>
<line x1="226.75" y1="372.6" x2="226.75" y2="374.20000000000005" stroke="#231f20" stroke-width="0.9"/>
<line x1="232.20" y1="372.6" x2="232.20" y2="375.6" stroke="#231f20" stroke-width="0.9"/>
<text x="57.80" y="385.8" font-size="9" text-anchor="middle" font-weight="normal" fill="#231f20" stroke="#231f20" stroke-width="0.15" transform-origin="57.80 385.8" style="transform:scaleX(0.9)">0</text>
<text x="79.60" y="385.8" font-size="9" text-anchor="middle" font-weight="normal" fill="#231f20" stroke="#231f20" stroke-width="0.15" transform-origin="79.60 385.8" style="transform:scaleX(0.9)">1</text>
<text x="101.40" y="385.8" font-size="9" text-anchor="middle" font-weight="normal" fill="#231f20" stroke="#231f20" stroke-width="0.15" transform-origin="101.40 385.8" style="transform:scaleX(0.9)">2</text>
<text x="123.20" y="385.8" font-size="9" text-anchor="middle" font-weight="normal" fill="#231f20" stroke="#231f20" stroke-width="0.15" transform-origin="123.20 385.8" style="transform:scaleX(0.9)">3</text>
<text x="145.00" y="385.8" font-size="9" text-anchor="middle" font-weight="normal" fill="#231f20" stroke="#231f20" stroke-width="0.15" transform-origin="145.00 385.8" style="transform:scaleX(0.9)">4</text>
<text x="166.80" y="385.8" font-size="9" text-anchor="middle" font-weight="normal" fill="#231f20" stroke="#231f20" stroke-width="0.15" transform-origin="166.80 385.8" style="transform:scaleX(0.9)">5</text>
<text x="188.60" y="385.8" font-size="9" text-anchor="middle" font-weight="normal" fill="#231f20" stroke="#231f20" stroke-width="0.15" transform-origin="188.60 385.8" style="transform:scaleX(0.9)">6</text>
<text x="210.40" y="385.8" font-size="9" text-anchor="middle" font-weight="normal" fill="#231f20" stroke="#231f20" stroke-width="0.15" transform-origin="210.40 385.8" style="transform:scaleX(0.9)">7</text>
<text x="232.20" y="385.8" font-size="9" text-anchor="middle" font-weight="normal" fill="#231f20" stroke="#231f20" stroke-width="0.15" transform-origin="232.20 385.8" style="transform:scaleX(0.9)">8</text>
<text x="117.6" y="399.4" font-size="9.8" text-anchor="start" font-weight="normal" fill="#231f20" textLength="58.5" lengthAdjust="spacingAndGlyphs" stroke="#231f20" stroke-width="0.3" >Nominal time (h)</text>
<text transform="translate(16.0,305) rotate(-90)" x="0" y="0" font-size="10" text-anchor="middle" fill="#231f20" stroke="#231f20" stroke-width="0.3" textLength="84.6" lengthAdjust="spacingAndGlyphs">Mean plasma decitabine</text>
<text transform="translate(28.1,305) rotate(-90)" x="0" y="0" font-size="10" text-anchor="middle" fill="#231f20" stroke="#231f20" stroke-width="0.3" textLength="76.5" lengthAdjust="spacingAndGlyphs">concentration (ng/mL)</text>
<line x1="59" y1="327.4" x2="232.5" y2="327.4" stroke="#231f20" stroke-width="0.9" stroke-dasharray="0.8,0.85"/>
<text x="212.1" y="337.3" font-size="7.6" text-anchor="start" font-weight="normal" fill="#231f20" textLength="19.8" lengthAdjust="spacingAndGlyphs" stroke="#231f20" stroke-width="0.14" >LLOQ</text>
<polyline points="58.10,354.60 62.80,273.60 68.30,266.70 80.40,260.90 90.20,277.50 101.00,290.80 122.90,307.80 144.80,315.80 188.60,328.10" fill="none" stroke="#2a4a8c" stroke-width="1.3" stroke-dasharray="3.6,2.1" stroke-linejoin="round"/>
<circle cx="58.10" cy="354.60" r="2.00" fill="#fff" stroke="#2a4a8c" stroke-width="0.9"/>
<circle cx="62.80" cy="273.60" r="2.00" fill="#fff" stroke="#2a4a8c" stroke-width="0.9"/>
<circle cx="68.30" cy="266.70" r="2.00" fill="#fff" stroke="#2a4a8c" stroke-width="0.9"/>
<circle cx="80.40" cy="260.90" r="2.00" fill="#fff" stroke="#2a4a8c" stroke-width="0.9"/>
<circle cx="90.20" cy="277.50" r="2.00" fill="#fff" stroke="#2a4a8c" stroke-width="0.9"/>
<circle cx="101.00" cy="290.80" r="2.00" fill="#fff" stroke="#2a4a8c" stroke-width="0.9"/>
<circle cx="122.90" cy="307.80" r="2.00" fill="#fff" stroke="#2a4a8c" stroke-width="0.9"/>
<circle cx="144.80" cy="315.80" r="2.00" fill="#fff" stroke="#2a4a8c" stroke-width="0.9"/>
<circle cx="188.60" cy="328.10" r="2.00" fill="#fff" stroke="#2a4a8c" stroke-width="0.9"/>
<polyline points="58.10,362.60 62.80,300.00 68.30,285.30 79.50,270.30 90.20,274.60 101.40,278.90 122.90,291.20 144.80,298.60 188.60,319.40 232.20,328.10" fill="none" stroke="#b3002d" stroke-width="1.3" stroke-dasharray="3.6,2" stroke-linejoin="round"/>
<circle cx="62.80" cy="300.00" r="2.00" fill="#fff" stroke="#b3002d" stroke-width="0.9"/>
<circle cx="68.30" cy="285.30" r="2.00" fill="#fff" stroke="#b3002d" stroke-width="0.9"/>
<circle cx="79.50" cy="270.30" r="2.00" fill="#fff" stroke="#b3002d" stroke-width="0.9"/>
<circle cx="90.20" cy="274.60" r="2.00" fill="#fff" stroke="#b3002d" stroke-width="0.9"/>
<circle cx="101.40" cy="278.90" r="2.00" fill="#fff" stroke="#b3002d" stroke-width="0.9"/>
<circle cx="122.90" cy="291.20" r="2.00" fill="#fff" stroke="#b3002d" stroke-width="0.9"/>
<circle cx="144.80" cy="298.60" r="2.00" fill="#fff" stroke="#b3002d" stroke-width="0.9"/>
<circle cx="188.60" cy="319.40" r="2.00" fill="#fff" stroke="#b3002d" stroke-width="0.9"/>
<circle cx="232.20" cy="328.10" r="2.00" fill="#fff" stroke="#b3002d" stroke-width="0.9"/>
<polyline points="58.10,362.60 62.90,297.50 68.50,271.80 79.50,267.90 90.40,271.50 101.40,277.00 122.90,284.00 144.80,292.50 188.60,309.50 232.20,319.40" fill="none" stroke="#b3002d" stroke-width="1.3" stroke-dasharray="3.6,1.6,1.2,1.6" stroke-linejoin="round"/>
<rect x="61.00" y="295.60" width="3.80" height="3.80" fill="#fff" stroke="#b3002d" stroke-width="0.9"/>
<rect x="66.60" y="269.90" width="3.80" height="3.80" fill="#fff" stroke="#b3002d" stroke-width="0.9"/>
<rect x="77.60" y="266.00" width="3.80" height="3.80" fill="#fff" stroke="#b3002d" stroke-width="0.9"/>
<rect x="88.50" y="269.60" width="3.80" height="3.80" fill="#fff" stroke="#b3002d" stroke-width="0.9"/>
<rect x="99.50" y="275.10" width="3.80" height="3.80" fill="#fff" stroke="#b3002d" stroke-width="0.9"/>
<rect x="121.00" y="282.10" width="3.80" height="3.80" fill="#fff" stroke="#b3002d" stroke-width="0.9"/>
<rect x="142.90" y="290.60" width="3.80" height="3.80" fill="#fff" stroke="#b3002d" stroke-width="0.9"/>
<rect x="186.70" y="307.60" width="3.80" height="3.80" fill="#fff" stroke="#b3002d" stroke-width="0.9"/>
<rect x="230.30" y="317.50" width="3.80" height="3.80" fill="#fff" stroke="#b3002d" stroke-width="0.9"/>
<polyline points="58.10,362.60 63.20,296.10 68.70,271.60 79.50,263.80 90.60,268.70 101.40,275.50 122.90,288.70 144.80,298.30 188.60,309.20 232.20,321.90" fill="none" stroke="#b3002d" stroke-width="1.6"  stroke-linejoin="round"/>
<rect x="56.05" y="360.55" width="4.10" height="4.10" fill="#b3002d"/>
<rect x="61.15" y="294.05" width="4.10" height="4.10" fill="#b3002d"/>
<rect x="66.65" y="269.55" width="4.10" height="4.10" fill="#b3002d"/>
<rect x="77.45" y="261.75" width="4.10" height="4.10" fill="#b3002d"/>
<rect x="88.55" y="266.65" width="4.10" height="4.10" fill="#b3002d"/>
<rect x="99.35" y="273.45" width="4.10" height="4.10" fill="#b3002d"/>
<rect x="120.85" y="286.65" width="4.10" height="4.10" fill="#b3002d"/>
<rect x="142.75" y="296.25" width="4.10" height="4.10" fill="#b3002d"/>
<rect x="186.55" y="307.15" width="4.10" height="4.10" fill="#b3002d"/>
<rect x="230.15" y="319.85" width="4.10" height="4.10" fill="#b3002d"/>
<circle cx="58.10" cy="354.60" r="2.10" fill="#fff" stroke="#2a4a8c" stroke-width="0.9"/>
<line x1="122.10" y1="233.79999999999998" x2="123.00" y2="233.79999999999998" stroke="#2a4a8c" stroke-width="1.2"/>
<line x1="124.60" y1="233.79999999999998" x2="134.10" y2="233.79999999999998" stroke="#2a4a8c" stroke-width="1.2"/>
<path d="M128.40 231.50L130.70 233.80L128.40 236.10L126.10 233.80Z" fill="#fff" stroke="#2a4a8c" stroke-width="0.9"/>
<text x="137.1" y="236.2" font-size="7.6" text-anchor="start" font-weight="normal" fill="#231f20" textLength="110.6" lengthAdjust="spacingAndGlyphs" stroke="#231f20" stroke-width="0.14" >Day 1 IV Decitabine 20 mg/m^2</text>
<line x1="122.10" y1="242.32999999999998" x2="123.00" y2="242.32999999999998" stroke="#b3002d" stroke-width="1.2"/>
<line x1="124.60" y1="242.32999999999998" x2="134.10" y2="242.32999999999998" stroke="#b3002d" stroke-width="1.2"/>
<circle cx="128.40" cy="242.33" r="1.90" fill="#fff" stroke="#b3002d" stroke-width="0.9"/>
<text x="137.1" y="244.73" font-size="7.6" text-anchor="start" font-weight="normal" fill="#231f20" textLength="132" lengthAdjust="spacingAndGlyphs" stroke="#231f20" stroke-width="0.14" >Day 1 Oral Decitabine &amp; Cedazuridine</text>
<line x1="122.10" y1="250.85999999999999" x2="124.60" y2="250.85999999999999" stroke="#b3002d" stroke-width="1.2"/>
<line x1="125.70" y1="250.85999999999999" x2="134.10" y2="250.85999999999999" stroke="#b3002d" stroke-width="1.2"/>
<rect x="126.60" y="249.06" width="3.60" height="3.60" fill="#fff" stroke="#b3002d" stroke-width="0.9"/>
<text x="137.1" y="253.26" font-size="7.6" text-anchor="start" font-weight="normal" fill="#231f20" textLength="132" lengthAdjust="spacingAndGlyphs" stroke="#231f20" stroke-width="0.14" >Day 2 Oral Decitabine &amp; Cedazuridine</text>
<line x1="122.10" y1="259.39" x2="134.10" y2="259.39" stroke="#b3002d" stroke-width="1.2"/>
<rect x="126.45" y="257.44" width="3.90" height="3.90" fill="#b3002d"/>
<text x="137.1" y="261.78999999999996" font-size="7.6" text-anchor="start" font-weight="normal" fill="#231f20" textLength="132" lengthAdjust="spacingAndGlyphs" stroke="#231f20" stroke-width="0.14" >Day 5 Oral Decitabine &amp; Cedazuridine</text>
<text x="285.6" y="219.5" font-size="11.6" text-anchor="start" font-weight="bold" fill="#000" transform-origin="285.6 219.5" style="transform:scaleX(1.1)">D</text>
<line x1="335.5" y1="230.6" x2="335.5" y2="375.4" stroke="#231f20" stroke-width="1.2"/>
<line x1="332.5" y1="372.40" x2="335.5" y2="372.40" stroke="#231f20" stroke-width="0.9"/>
<line x1="334.0" y1="364.01" x2="335.5" y2="364.01" stroke="#231f20" stroke-width="0.6"/>
<line x1="334.0" y1="359.11" x2="335.5" y2="359.11" stroke="#231f20" stroke-width="0.6"/>
<line x1="334.0" y1="355.63" x2="335.5" y2="355.63" stroke="#231f20" stroke-width="0.6"/>
<line x1="334.0" y1="352.93" x2="335.5" y2="352.93" stroke="#231f20" stroke-width="0.6"/>
<line x1="334.0" y1="350.72" x2="335.5" y2="350.72" stroke="#231f20" stroke-width="0.6"/>
<line x1="334.0" y1="348.86" x2="335.5" y2="348.86" stroke="#231f20" stroke-width="0.6"/>
<line x1="334.0" y1="347.24" x2="335.5" y2="347.24" stroke="#231f20" stroke-width="0.6"/>
<line x1="334.0" y1="345.81" x2="335.5" y2="345.81" stroke="#231f20" stroke-width="0.6"/>
<line x1="332.5" y1="344.54" x2="335.5" y2="344.54" stroke="#231f20" stroke-width="0.9"/>
<line x1="334.0" y1="336.15" x2="335.5" y2="336.15" stroke="#231f20" stroke-width="0.6"/>
<line x1="334.0" y1="331.25" x2="335.5" y2="331.25" stroke="#231f20" stroke-width="0.6"/>
<line x1="334.0" y1="327.77" x2="335.5" y2="327.77" stroke="#231f20" stroke-width="0.6"/>
<line x1="334.0" y1="325.07" x2="335.5" y2="325.07" stroke="#231f20" stroke-width="0.6"/>
<line x1="334.0" y1="322.86" x2="335.5" y2="322.86" stroke="#231f20" stroke-width="0.6"/>
<line x1="334.0" y1="321.00" x2="335.5" y2="321.00" stroke="#231f20" stroke-width="0.6"/>
<line x1="334.0" y1="319.38" x2="335.5" y2="319.38" stroke="#231f20" stroke-width="0.6"/>
<line x1="334.0" y1="317.95" x2="335.5" y2="317.95" stroke="#231f20" stroke-width="0.6"/>
<line x1="332.5" y1="316.68" x2="335.5" y2="316.68" stroke="#231f20" stroke-width="0.9"/>
<line x1="334.0" y1="308.29" x2="335.5" y2="308.29" stroke="#231f20" stroke-width="0.6"/>
<line x1="334.0" y1="303.39" x2="335.5" y2="303.39" stroke="#231f20" stroke-width="0.6"/>
<line x1="334.0" y1="299.91" x2="335.5" y2="299.91" stroke="#231f20" stroke-width="0.6"/>
<line x1="334.0" y1="297.21" x2="335.5" y2="297.21" stroke="#231f20" stroke-width="0.6"/>
<line x1="334.0" y1="295.00" x2="335.5" y2="295.00" stroke="#231f20" stroke-width="0.6"/>
<line x1="334.0" y1="293.14" x2="335.5" y2="293.14" stroke="#231f20" stroke-width="0.6"/>
<line x1="334.0" y1="291.52" x2="335.5" y2="291.52" stroke="#231f20" stroke-width="0.6"/>
<line x1="334.0" y1="290.09" x2="335.5" y2="290.09" stroke="#231f20" stroke-width="0.6"/>
<line x1="332.5" y1="288.82" x2="335.5" y2="288.82" stroke="#231f20" stroke-width="0.9"/>
<line x1="334.0" y1="280.43" x2="335.5" y2="280.43" stroke="#231f20" stroke-width="0.6"/>
<line x1="334.0" y1="275.53" x2="335.5" y2="275.53" stroke="#231f20" stroke-width="0.6"/>
<line x1="334.0" y1="272.05" x2="335.5" y2="272.05" stroke="#231f20" stroke-width="0.6"/>
<line x1="334.0" y1="269.35" x2="335.5" y2="269.35" stroke="#231f20" stroke-width="0.6"/>
<line x1="334.0" y1="267.14" x2="335.5" y2="267.14" stroke="#231f20" stroke-width="0.6"/>
<line x1="334.0" y1="265.28" x2="335.5" y2="265.28" stroke="#231f20" stroke-width="0.6"/>
<line x1="334.0" y1="263.66" x2="335.5" y2="263.66" stroke="#231f20" stroke-width="0.6"/>
<line x1="334.0" y1="262.23" x2="335.5" y2="262.23" stroke="#231f20" stroke-width="0.6"/>
<line x1="332.5" y1="260.96" x2="335.5" y2="260.96" stroke="#231f20" stroke-width="0.9"/>
<line x1="334.0" y1="252.57" x2="335.5" y2="252.57" stroke="#231f20" stroke-width="0.6"/>
<line x1="334.0" y1="247.67" x2="335.5" y2="247.67" stroke="#231f20" stroke-width="0.6"/>
<line x1="334.0" y1="244.19" x2="335.5" y2="244.19" stroke="#231f20" stroke-width="0.6"/>
<line x1="334.0" y1="241.49" x2="335.5" y2="241.49" stroke="#231f20" stroke-width="0.6"/>
<line x1="334.0" y1="239.28" x2="335.5" y2="239.28" stroke="#231f20" stroke-width="0.6"/>
<line x1="334.0" y1="237.42" x2="335.5" y2="237.42" stroke="#231f20" stroke-width="0.6"/>
<line x1="334.0" y1="235.80" x2="335.5" y2="235.80" stroke="#231f20" stroke-width="0.6"/>
<line x1="334.0" y1="234.37" x2="335.5" y2="234.37" stroke="#231f20" stroke-width="0.6"/>
<line x1="332.5" y1="233.10" x2="335.5" y2="233.10" stroke="#231f20" stroke-width="0.9"/>
<text x="330.7" y="375.70" font-size="9.3" text-anchor="end" font-weight="normal" fill="#231f20" stroke="#231f20" stroke-width="0.15" transform-origin="330.7 372.40" style="transform:scaleX(0.95)">0.01</text>
<text x="330.7" y="347.84" font-size="9.3" text-anchor="end" font-weight="normal" fill="#231f20" stroke="#231f20" stroke-width="0.15" transform-origin="330.7 344.54" style="transform:scaleX(0.95)">0.1</text>
<text x="330.7" y="319.98" font-size="9.3" text-anchor="end" font-weight="normal" fill="#231f20" stroke="#231f20" stroke-width="0.15" transform-origin="330.7 316.68" style="transform:scaleX(0.95)">1</text>
<text x="330.7" y="292.12" font-size="9.3" text-anchor="end" font-weight="normal" fill="#231f20" stroke="#231f20" stroke-width="0.15" transform-origin="330.7 288.82" style="transform:scaleX(0.95)">10</text>
<text x="330.7" y="264.26" font-size="9.3" text-anchor="end" font-weight="normal" fill="#231f20" stroke="#231f20" stroke-width="0.15" transform-origin="330.7 260.96" style="transform:scaleX(0.95)">100</text>
<text x="330.7" y="236.40" font-size="9.3" text-anchor="end" font-weight="normal" fill="#231f20" stroke="#231f20" stroke-width="0.15" transform-origin="330.7 233.10" style="transform:scaleX(0.95)">1000</text>
<line x1="334.9" y1="372.4" x2="512.5" y2="372.4" stroke="#231f20" stroke-width="1.2"/>
<line x1="335.50" y1="372.4" x2="335.50" y2="375.4" stroke="#231f20" stroke-width="0.9"/>
<line x1="340.94" y1="372.4" x2="340.94" y2="374.0" stroke="#231f20" stroke-width="0.9"/>
<line x1="346.38" y1="372.4" x2="346.38" y2="374.0" stroke="#231f20" stroke-width="0.9"/>
<line x1="351.81" y1="372.4" x2="351.81" y2="374.0" stroke="#231f20" stroke-width="0.9"/>
<line x1="357.25" y1="372.4" x2="357.25" y2="375.4" stroke="#231f20" stroke-width="0.9"/>
<line x1="362.69" y1="372.4" x2="362.69" y2="374.0" stroke="#231f20" stroke-width="0.9"/>
<line x1="368.12" y1="372.4" x2="368.12" y2="374.0" stroke="#231f20" stroke-width="0.9"/>
<line x1="373.56" y1="372.4" x2="373.56" y2="374.0" stroke="#231f20" stroke-width="0.9"/>
<line x1="379.00" y1="372.4" x2="379.00" y2="375.4" stroke="#231f20" stroke-width="0.9"/>
<line x1="384.44" y1="372.4" x2="384.44" y2="374.0" stroke="#231f20" stroke-width="0.9"/>
<line x1="389.88" y1="372.4" x2="389.88" y2="374.0" stroke="#231f20" stroke-width="0.9"/>
<line x1="395.31" y1="372.4" x2="395.31" y2="374.0" stroke="#231f20" stroke-width="0.9"/>
<line x1="400.75" y1="372.4" x2="400.75" y2="375.4" stroke="#231f20" stroke-width="0.9"/>
<line x1="406.19" y1="372.4" x2="406.19" y2="374.0" stroke="#231f20" stroke-width="0.9"/>
<line x1="411.62" y1="372.4" x2="411.62" y2="374.0" stroke="#231f20" stroke-width="0.9"/>
<line x1="417.06" y1="372.4" x2="417.06" y2="374.0" stroke="#231f20" stroke-width="0.9"/>
<line x1="422.50" y1="372.4" x2="422.50" y2="375.4" stroke="#231f20" stroke-width="0.9"/>
<line x1="427.94" y1="372.4" x2="427.94" y2="374.0" stroke="#231f20" stroke-width="0.9"/>
<line x1="433.38" y1="372.4" x2="433.38" y2="374.0" stroke="#231f20" stroke-width="0.9"/>
<line x1="438.81" y1="372.4" x2="438.81" y2="374.0" stroke="#231f20" stroke-width="0.9"/>
<line x1="444.25" y1="372.4" x2="444.25" y2="375.4" stroke="#231f20" stroke-width="0.9"/>
<line x1="449.69" y1="372.4" x2="449.69" y2="374.0" stroke="#231f20" stroke-width="0.9"/>
<line x1="455.12" y1="372.4" x2="455.12" y2="374.0" stroke="#231f20" stroke-width="0.9"/>
<line x1="460.56" y1="372.4" x2="460.56" y2="374.0" stroke="#231f20" stroke-width="0.9"/>
<line x1="466.00" y1="372.4" x2="466.00" y2="375.4" stroke="#231f20" stroke-width="0.9"/>
<line x1="471.44" y1="372.4" x2="471.44" y2="374.0" stroke="#231f20" stroke-width="0.9"/>
<line x1="476.88" y1="372.4" x2="476.88" y2="374.0" stroke="#231f20" stroke-width="0.9"/>
<line x1="482.31" y1="372.4" x2="482.31" y2="374.0" stroke="#231f20" stroke-width="0.9"/>
<line x1="487.75" y1="372.4" x2="487.75" y2="375.4" stroke="#231f20" stroke-width="0.9"/>
<line x1="493.19" y1="372.4" x2="493.19" y2="374.0" stroke="#231f20" stroke-width="0.9"/>
<line x1="498.62" y1="372.4" x2="498.62" y2="374.0" stroke="#231f20" stroke-width="0.9"/>
<line x1="504.06" y1="372.4" x2="504.06" y2="374.0" stroke="#231f20" stroke-width="0.9"/>
<line x1="509.50" y1="372.4" x2="509.50" y2="375.4" stroke="#231f20" stroke-width="0.9"/>
<text x="335.90" y="385.6" font-size="9" text-anchor="middle" font-weight="normal" fill="#231f20" stroke="#231f20" stroke-width="0.15" transform-origin="335.90 385.6" style="transform:scaleX(0.9)">0</text>
<text x="357.65" y="385.6" font-size="9" text-anchor="middle" font-weight="normal" fill="#231f20" stroke="#231f20" stroke-width="0.15" transform-origin="357.65 385.6" style="transform:scaleX(0.9)">1</text>
<text x="379.40" y="385.6" font-size="9" text-anchor="middle" font-weight="normal" fill="#231f20" stroke="#231f20" stroke-width="0.15" transform-origin="379.40 385.6" style="transform:scaleX(0.9)">2</text>
<text x="401.15" y="385.6" font-size="9" text-anchor="middle" font-weight="normal" fill="#231f20" stroke="#231f20" stroke-width="0.15" transform-origin="401.15 385.6" style="transform:scaleX(0.9)">3</text>
<text x="422.90" y="385.6" font-size="9" text-anchor="middle" font-weight="normal" fill="#231f20" stroke="#231f20" stroke-width="0.15" transform-origin="422.90 385.6" style="transform:scaleX(0.9)">4</text>
<text x="444.65" y="385.6" font-size="9" text-anchor="middle" font-weight="normal" fill="#231f20" stroke="#231f20" stroke-width="0.15" transform-origin="444.65 385.6" style="transform:scaleX(0.9)">5</text>
<text x="466.40" y="385.6" font-size="9" text-anchor="middle" font-weight="normal" fill="#231f20" stroke="#231f20" stroke-width="0.15" transform-origin="466.40 385.6" style="transform:scaleX(0.9)">6</text>
<text x="488.15" y="385.6" font-size="9" text-anchor="middle" font-weight="normal" fill="#231f20" stroke="#231f20" stroke-width="0.15" transform-origin="488.15 385.6" style="transform:scaleX(0.9)">7</text>
<text x="509.90" y="385.6" font-size="9" text-anchor="middle" font-weight="normal" fill="#231f20" stroke="#231f20" stroke-width="0.15" transform-origin="509.90 385.6" style="transform:scaleX(0.9)">8</text>
<text x="395.6" y="399.4" font-size="9.8" text-anchor="start" font-weight="normal" fill="#231f20" textLength="58.5" lengthAdjust="spacingAndGlyphs" stroke="#231f20" stroke-width="0.3" >Nominal time (h)</text>
<text transform="translate(294.1,300.8) rotate(-90)" x="0" y="0" font-size="10" text-anchor="middle" fill="#231f20" stroke="#231f20" stroke-width="0.3" textLength="84.6" lengthAdjust="spacingAndGlyphs">Mean plasma decitabine</text>
<text transform="translate(305.8,300.8) rotate(-90)" x="0" y="0" font-size="10" text-anchor="middle" fill="#231f20" stroke="#231f20" stroke-width="0.3" textLength="76.5" lengthAdjust="spacingAndGlyphs">concentration (ng/mL)</text>
<line x1="337" y1="325.1" x2="510.5" y2="325.1" stroke="#231f20" stroke-width="0.9" stroke-dasharray="0.8,0.85"/>
<text x="489.0" y="334.9" font-size="7.6" text-anchor="start" font-weight="normal" fill="#231f20" textLength="20.4" lengthAdjust="spacingAndGlyphs" stroke="#231f20" stroke-width="0.14" >LLOQ</text>
<polyline points="341.20,263.70 346.30,256.80 357.50,253.50 359.40,255.50 368.20,276.00 379.40,286.80 400.90,306.40 422.70,311.80 466.00,318.10" fill="none" stroke="#2a4a8c" stroke-width="1.3" stroke-dasharray="3.6,2.1" stroke-linejoin="round"/>
<circle cx="341.20" cy="263.70" r="2.00" fill="#fff" stroke="#2a4a8c" stroke-width="0.9"/>
<circle cx="346.30" cy="256.80" r="2.00" fill="#fff" stroke="#2a4a8c" stroke-width="0.9"/>
<circle cx="357.50" cy="253.50" r="2.00" fill="#fff" stroke="#2a4a8c" stroke-width="0.9"/>
<circle cx="359.40" cy="255.50" r="2.00" fill="#fff" stroke="#2a4a8c" stroke-width="0.9"/>
<circle cx="368.20" cy="276.00" r="2.00" fill="#fff" stroke="#2a4a8c" stroke-width="0.9"/>
<circle cx="379.40" cy="286.80" r="2.00" fill="#fff" stroke="#2a4a8c" stroke-width="0.9"/>
<circle cx="400.90" cy="306.40" r="2.00" fill="#fff" stroke="#2a4a8c" stroke-width="0.9"/>
<circle cx="422.70" cy="311.80" r="2.00" fill="#fff" stroke="#2a4a8c" stroke-width="0.9"/>
<circle cx="466.00" cy="318.10" r="2.00" fill="#fff" stroke="#2a4a8c" stroke-width="0.9"/>
<polyline points="335.70,360.10 341.20,283.70 346.70,270.50 357.50,264.10 368.60,269.60 379.40,272.90 400.90,287.00 422.70,300.00 466.00,312.70 509.60,322.70" fill="none" stroke="#b3002d" stroke-width="1.3" stroke-dasharray="3.6,2" stroke-linejoin="round"/>
<circle cx="335.70" cy="360.10" r="2.00" fill="#fff" stroke="#b3002d" stroke-width="0.9"/>
<circle cx="341.20" cy="283.70" r="2.00" fill="#fff" stroke="#b3002d" stroke-width="0.9"/>
<circle cx="346.70" cy="270.50" r="2.00" fill="#fff" stroke="#b3002d" stroke-width="0.9"/>
<circle cx="357.50" cy="264.10" r="2.00" fill="#fff" stroke="#b3002d" stroke-width="0.9"/>
<circle cx="368.60" cy="269.60" r="2.00" fill="#fff" stroke="#b3002d" stroke-width="0.9"/>
<circle cx="379.40" cy="272.90" r="2.00" fill="#fff" stroke="#b3002d" stroke-width="0.9"/>
<circle cx="400.90" cy="287.00" r="2.00" fill="#fff" stroke="#b3002d" stroke-width="0.9"/>
<circle cx="422.70" cy="300.00" r="2.00" fill="#fff" stroke="#b3002d" stroke-width="0.9"/>
<circle cx="466.00" cy="312.70" r="2.00" fill="#fff" stroke="#b3002d" stroke-width="0.9"/>
<circle cx="509.60" cy="322.70" r="2.00" fill="#fff" stroke="#b3002d" stroke-width="0.9"/>
<polyline points="341.20,277.00 346.70,260.80 357.50,258.80 368.60,265.10 379.40,270.50 400.90,286.20 422.70,298.70 466.00,310.80 509.60,316.20" fill="none" stroke="#b3002d" stroke-width="1.6"  stroke-linejoin="round"/>
<rect x="339.15" y="274.95" width="4.10" height="4.10" fill="#b3002d"/>
<rect x="344.65" y="258.75" width="4.10" height="4.10" fill="#b3002d"/>
<rect x="355.45" y="256.75" width="4.10" height="4.10" fill="#b3002d"/>
<rect x="366.55" y="263.05" width="4.10" height="4.10" fill="#b3002d"/>
<rect x="377.35" y="268.45" width="4.10" height="4.10" fill="#b3002d"/>
<rect x="398.85" y="284.15" width="4.10" height="4.10" fill="#b3002d"/>
<rect x="420.65" y="296.65" width="4.10" height="4.10" fill="#b3002d"/>
<rect x="463.95" y="308.75" width="4.10" height="4.10" fill="#b3002d"/>
<rect x="507.55" y="314.15" width="4.10" height="4.10" fill="#b3002d"/>
<line x1="378.20" y1="233.7" x2="379.10" y2="233.7" stroke="#2a4a8c" stroke-width="1.2"/>
<line x1="380.70" y1="233.7" x2="390.20" y2="233.7" stroke="#2a4a8c" stroke-width="1.2"/>
<path d="M384.50 231.40L386.80 233.70L384.50 236.00L382.20 233.70Z" fill="#fff" stroke="#2a4a8c" stroke-width="0.9"/>
<text x="393.2" y="236.1" font-size="7.6" text-anchor="start" font-weight="normal" fill="#231f20" textLength="111.1" lengthAdjust="spacingAndGlyphs" stroke="#231f20" stroke-width="0.14" >Day 1 IV Decitabine 20 mg/m^2</text>
<line x1="378.20" y1="242.14999999999998" x2="379.10" y2="242.14999999999998" stroke="#b3002d" stroke-width="1.2"/>
<line x1="380.70" y1="242.14999999999998" x2="390.20" y2="242.14999999999998" stroke="#b3002d" stroke-width="1.2"/>
<circle cx="384.50" cy="242.15" r="1.90" fill="#fff" stroke="#b3002d" stroke-width="0.9"/>
<text x="393.2" y="244.54999999999998" font-size="7.6" text-anchor="start" font-weight="normal" fill="#231f20" textLength="70.2" lengthAdjust="spacingAndGlyphs" stroke="#231f20" stroke-width="0.14" >Day 1 Oral ASTX727</text>
<line x1="378.20" y1="250.6" x2="390.20" y2="250.6" stroke="#b3002d" stroke-width="1.2"/>
<rect x="382.55" y="248.65" width="3.90" height="3.90" fill="#b3002d"/>
<text x="393.2" y="253.0" font-size="7.6" text-anchor="start" font-weight="normal" fill="#231f20" textLength="70.2" lengthAdjust="spacingAndGlyphs" stroke="#231f20" stroke-width="0.14" >Day 5 Oral ASTX727</text>
<rect x="0.5" y="0.5" width="519" height="408" fill="none" stroke="#000" stroke-width="1"/>
</svg>
</body></html>
